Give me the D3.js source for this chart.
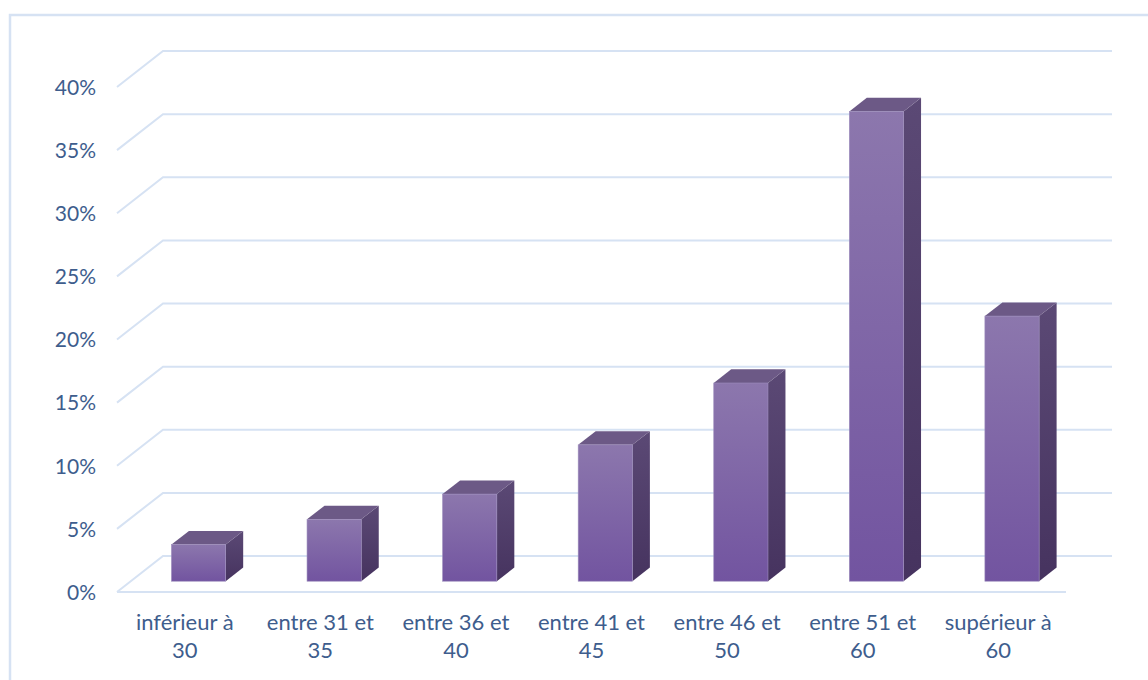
<!DOCTYPE html>
<html>
<head>
<meta charset="utf-8">
<script src="https://cdn.jsdelivr.net/npm/d3@7/dist/d3.min.js"></script>
<style>
  html, body { margin: 0; padding: 0; background: #fff; }
  svg { display: block; font-family: Lato, "Open Sans", sans-serif; }
</style>
</head>
<body>
<svg id="chart" width="1148" height="680"></svg>
<script>
// Age groups (two-line labels) and their share of the total
const categories = [
  ["inférieur à", "30"],
  ["entre 31 et", "35"],
  ["entre 36 et", "40"],
  ["entre 41 et", "45"],
  ["entre 46 et", "50"],
  ["entre 51 et", "60"],
  ["supérieur à", "60"]
];
const shares = [0.029, 0.049, 0.069, 0.108, 0.157, 0.372, 0.210];
const yTicks = [0, 0.05, 0.10, 0.15, 0.20, 0.25, 0.30, 0.35, 0.40];

const svg = d3.select("#chart");

// Front plane of the floor and the oblique depth vector
const floorLeft = 117, floorRight = 1066;
const depthX = 46, depthY = -36;
// Bars occupy this slice of the depth
const barFront = 0.30, barBack = 0.68;

const keys = categories.map(c => c.join(" "));
const x = d3.scaleBand().domain(keys).range([floorLeft, floorRight])
  .paddingInner(0.6).paddingOuter(0.3);
const y = d3.scaleLinear().domain([0, 0.40]).range([592, 87]);

// project a point at depth fraction f
const px = (xv, f) => xv + f * depthX;
const py = (yv, f) => yv + f * depthY;

const gridColor = "#D6E2F3";
const textColor = "#3E5D8D";

// Outer frame
svg.append("rect")
  .attr("x", 10).attr("y", 15).attr("width", 1160).attr("height", 700)
  .attr("fill", "none").attr("stroke", "#D6E2F3").attr("stroke-width", 2.5);

// Walls: gridlines run from the left front edge, up the side wall, across the back wall
const grid = svg.append("g");
grid.selectAll("path").data(yTicks).join("path")
  .attr("fill", "none").attr("stroke", gridColor).attr("stroke-width", 2)
  .attr("d", t => {
    const yf = y(t);
    return `M${floorLeft},${yf} L${px(floorLeft, 1)},${py(yf, 1)} L${px(floorRight, 1)},${py(yf, 1)}`;
  });
// Front edge of the floor
grid.append("line")
  .attr("x1", floorLeft).attr("x2", floorRight)
  .attr("y1", y(0)).attr("y2", y(0))
  .attr("stroke", gridColor).attr("stroke-width", 2);

// Gradients for the bar faces
const defs = svg.append("defs");
function vGrad(id, top, bottom) {
  const g = defs.append("linearGradient").attr("id", id)
    .attr("x1", 0).attr("y1", 0).attr("x2", 0).attr("y2", 1);
  g.append("stop").attr("offset", "0%").attr("stop-color", top);
  g.append("stop").attr("offset", "100%").attr("stop-color", bottom);
}
vGrad("gFront", "#8C77AD", "#7254A0");
vGrad("gSide", "#5B4975", "#46335F");

const bars = svg.append("g").selectAll("g")
  .data(shares.map((v, i) => ({ key: keys[i], v })))
  .join("g");

const x0 = d => x(d.key);
const x1 = d => x(d.key) + x.bandwidth();

// right side face
bars.append("path")
  .attr("fill", "url(#gSide)")
  .attr("d", d => {
    const a = x1(d), yb = y(0), yt = y(d.v);
    return `M${px(a, barFront)},${py(yb, barFront)} L${px(a, barBack)},${py(yb, barBack)}` +
      ` L${px(a, barBack)},${py(yt, barBack)} L${px(a, barFront)},${py(yt, barFront)}Z`;
  });
// top face
bars.append("path")
  .attr("fill", "#6C5986")
  .attr("d", d => {
    const a = x0(d), b = x1(d), yt = y(d.v);
    return `M${px(a, barFront)},${py(yt, barFront)} L${px(a, barBack)},${py(yt, barBack)}` +
      ` L${px(b, barBack)},${py(yt, barBack)} L${px(b, barFront)},${py(yt, barFront)}Z`;
  });
// front face
bars.append("rect")
  .attr("fill", "url(#gFront)")
  .attr("stroke", "#9C8CBC").attr("stroke-width", 0.6)
  .attr("x", d => px(x0(d), barFront))
  .attr("y", d => py(y(d.v), barFront))
  .attr("width", x.bandwidth())
  .attr("height", d => y(0) - y(d.v));

// Value axis labels
const yAxis = d3.axisLeft(y).tickValues(yTicks).tickSize(0).tickPadding(0)
  .tickFormat(d3.format(".0%"));
const ya = svg.append("g").attr("transform", "translate(96,0)").call(yAxis);
ya.select(".domain").remove();
ya.selectAll("text")
  .attr("fill", textColor).style("font-size", "21px")
  .style("font-family", "Lato, 'Open Sans', sans-serif")
  .attr("dy", "0.35em");

// Category labels, two lines each
const xl = svg.append("g");
categories.forEach((c, i) => {
  const cx = x(keys[i]) + x.bandwidth() / 2;
  const t = xl.append("text")
    .attr("text-anchor", "middle")
    .attr("fill", textColor)
    .style("font-size", "22px");
  t.append("tspan").attr("x", cx).attr("y", 630).text(c[0]);
  t.append("tspan").attr("x", cx).attr("y", 658).text(c[1]);
});
</script>
</body>
</html>
